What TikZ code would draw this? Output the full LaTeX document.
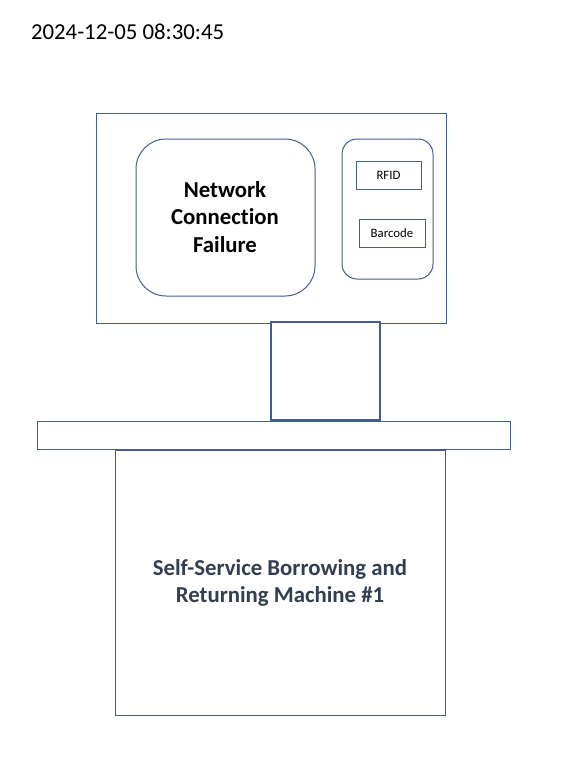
\documentclass[tikz,border=0pt]{standalone}
\usepackage{fontspec}
\setmainfont[Ligatures={NoCommon,NoContextual}]{Carlito}
\definecolor{edge}{RGB}{68,94,140}
\definecolor{captxt}{RGB}{51,63,80}
\begin{document}
\begin{tikzpicture}[x=1pt,y=-1pt,
  box/.style={draw=edge,line width=1pt,inner sep=0pt,outer sep=0pt,fill=white},
  bigtxt/.style={font=\fontsize{22.8}{27.5}\selectfont\bfseries,align=center},
  smalltxt/.style={font=\fontsize{12.8}{15}\selectfont}]
\useasboundingbox[fill=white] (0,0) rectangle (560,765);
\node[anchor=west,font=\fontsize{22.8}{27}\selectfont] (stamp) at (27.5,32) {2024-12-05 08:30:45};
% monitor
\node[box,minimum width=350pt,minimum height=209pt] (monitor) at (271,218.5) {};
\node[box,rounded corners=30pt,minimum width=179pt,minimum height=157pt] (screen) at (225.5,217.5) {};
\node[bigtxt] (msg) at (225,217) {Network\\Connection\\Failure};
\node[box,rounded corners=15pt,minimum width=91pt,minimum height=140pt] (panel) at (387.5,209) {};
\node[box,smalltxt,minimum width=65pt,minimum height=28pt] (rfid) at (388.5,175) {RFID};
\node[box,smalltxt,minimum width=66pt,minimum height=28pt] (barcode) at (392,233) {Barcode};
% neck, shelf, base
\node[box,line width=1.4pt,minimum width=109pt,minimum height=98pt] (neck) at (325.5,371) {};
\node[box,minimum width=473pt,minimum height=28pt] (shelf) at (273.5,435) {};
\node[box,minimum width=330pt,minimum height=265pt] (base) at (280,582.5) {};
\node[bigtxt,text=captxt] (caption) at (280,583) {Self-Service Borrowing and\\Returning Machine \#1};
\end{tikzpicture}
\end{document}
